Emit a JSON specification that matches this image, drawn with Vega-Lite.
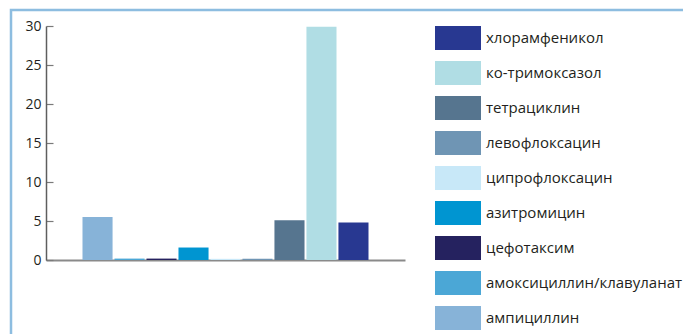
{
  "$schema": "https://vega.github.io/schema/vega-lite/v6.json",
  "autosize": "none",
  "padding": {"left": 11, "top": 10, "right": 0, "bottom": 0},
  "width": 700,
  "height": 340,
  "background": "white",
  "config": {
    "view": {"stroke": "#8dbde0", "strokeWidth": 2.5},
    "font": "Open Sans"
  },
  "data": {
    "values": [
      {"drug": "ампициллин", "value": 5.5},
      {"drug": "амоксициллин/клавуланат", "value": 0.18},
      {"drug": "цефотаксим", "value": 0.18},
      {"drug": "азитромицин", "value": 1.6},
      {"drug": "ципрофлоксацин", "value": 0.15},
      {"drug": "левофлоксацин", "value": 0.15},
      {"drug": "тетрациклин", "value": 5.1},
      {"drug": "ко-тримоксазол", "value": 29.9},
      {"drug": "хлорамфеникол", "value": 4.8}
    ]
  },
  "resolve": {"axis": {"y": "independent", "x": "independent"}, "scale": {"x": "independent"}},
  "layer": [
    {
      "mark": {"type": "bar", "opacity": 0},
      "encoding": {
        "x": {
          "field": "drug",
          "type": "nominal",
          "sort": ["ампициллин", "амоксициллин/клавуланат", "цефотаксим", "азитромицин", "ципрофлоксацин", "левофлоксацин", "тетрациклин", "ко-тримоксазол", "хлорамфеникол"],
          "scale": {"range": [35, 394], "paddingInner": 0.06, "paddingOuter": 1},
          "axis": {"orient": "bottom", "offset": -90, "labels": false, "ticks": false, "title": null, "domainColor": "#8a8a8a", "domainWidth": 2}
        },
        "y": {
          "field": "value",
          "type": "quantitative",
          "scale": {"domain": [0, 30], "range": [250, 16], "nice": false},
          "axis": {"orient": "left", "offset": -35, "values": [0, 5, 10, 15, 20, 25, 30], "grid": false, "title": null, "ticks": false, "domain": false, "labelFontSize": 14, "labelColor": "#231f20", "labelPadding": 5, "labelFont": "Open Sans"}
        }
      }
    },
    {
      "mark": {"type": "bar"},
      "encoding": {
        "x": {
          "field": "drug",
          "type": "nominal",
          "sort": ["ампициллин", "амоксициллин/клавуланат", "цефотаксим", "азитромицин", "ципрофлоксацин", "левофлоксацин", "тетрациклин", "ко-тримоксазол", "хлорамфеникол"],
          "scale": {"range": [39.5, 389.5], "paddingInner": 0.06, "paddingOuter": 1},
          "axis": null
        },
        "y": {
          "field": "value",
          "type": "quantitative",
          "axis": {"orient": "right", "offset": -665, "values": [0, 5, 10, 15, 20, 25, 30], "grid": false, "title": null, "labels": false, "domain": true, "domainColor": "#5e5e5e", "domainWidth": 1.5, "ticks": true, "tickSize": 7, "tickColor": "#7a7a7a", "tickWidth": 1.2}
        },
        "color": {
          "field": "drug",
          "type": "nominal",
          "scale": {
            "domain": ["хлорамфеникол", "ко-тримоксазол", "тетрациклин", "левофлоксацин", "ципрофлоксацин", "азитромицин", "цефотаксим", "амоксициллин/клавуланат", "ампициллин"],
            "range": ["#283891", "#b0dde4", "#56758f", "#6f95b4", "#c8e8f8", "#0095d1", "#25225f", "#4ba7d6", "#87b3d8"]
          },
          "legend": {
            "title": null,
            "orient": "none",
            "legendX": 424,
            "legendY": 5,
            "padding": 0,
            "symbolType": "M-1,-0.52H1V0.52H-1Z",
            "symbolSize": 2116,
            "symbolStrokeWidth": 0,
            "symbolOpacity": 1,
            "labelFontSize": 15,
            "labelFont": "Open Sans",
            "labelColor": "#231f20",
            "labelOffset": 5,
            "rowPadding": 0,
            "labelLimit": 300
          }
        }
      }
    }
  ]
}
